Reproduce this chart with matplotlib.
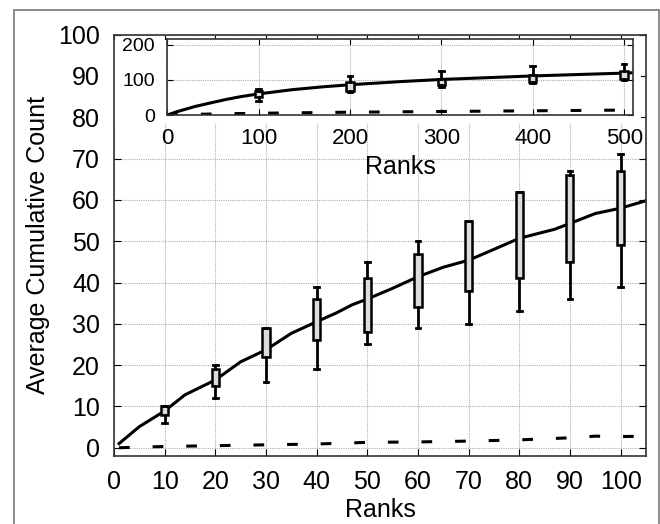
import numpy as np
import matplotlib
matplotlib.use("Agg")
import matplotlib.pyplot as plt
from matplotlib.patches import Rectangle

plt.rcParams['font.family'] = ['Liberation Sans', 'DejaVu Sans']

# main plot: average cumulative count, ranks 1..105
rank = [1, 5, 10, 14, 20, 25, 30, 35, 40, 44, 47, 50, 55, 60, 65, 70, 74, 80, 87, 90, 95, 100, 105]
avg_count = [1.0, 5.1, 8.9, 12.8, 16.4, 20.8, 23.7, 27.7, 30.5, 32.7, 34.6, 36.0, 38.6, 41.4,
             43.7, 45.4, 47.5, 50.7, 52.9, 54.3, 56.7, 58.0, 59.8]
rank_base = [1, 10, 20, 30, 40, 50, 60, 70, 80, 90, 95, 100, 105]
base_count = [0, 0.3, 0.5, 0.7, 0.9, 1.3, 1.4, 1.6, 1.9, 2.4, 2.8, 2.7, 2.8]

box_pos = [10, 20, 30, 40, 50, 60, 70, 80, 90, 100]
whis_lo = [6, 12, 16, 19, 25, 29, 30, 33, 36, 39]
box_q1 = [8, 15, 22, 26, 28, 34, 38, 41, 45, 49]
box_q3 = [10, 19, 29, 36, 41, 47, 55, 62, 66, 67]
whis_hi = [10, 20, 29, 39, 45, 50, 55, 62, 67, 71]

# inset: ranks up to 510
in_rank = [0, 10, 20, 30, 45, 64, 80, 100, 137, 170, 200, 256, 300, 350, 400, 450, 500, 510]
in_count = [0, 9, 16.5, 24, 33, 44, 52, 60, 72, 80, 86, 95, 101, 106, 111, 115, 119, 120]
in_rank_base = [0, 50, 100, 200, 300, 400, 500, 510]
in_base = [0, 3, 5, 8, 10, 12, 14, 14]

in_box_pos = [100, 200, 300, 400, 500]
in_whis_lo = [40, 64, 80, 92, 100]
in_q1 = [50, 68, 86, 95, 103]
in_q3 = [67, 93, 102, 114, 124]
in_whis_hi = [73, 110, 124, 140, 145]


def make_stats(lo, q1, q3, hi):
    return [dict(whislo=a, q1=b, med=(b + c) / 2, q3=c, whishi=d, fliers=[])
            for a, b, c, d in zip(lo, q1, q3, hi)]


def draw_boxes(ax, stats, pos, width, capw):
    ax.bxp(stats, positions=pos, widths=width, capwidths=capw, patch_artist=True,
           showfliers=False, manage_ticks=False,
           boxprops=dict(facecolor='#dddddd', edgecolor='black', linewidth=1.8),
           whiskerprops=dict(color='black', linewidth=2),
           capprops=dict(color='black', linewidth=2),
           medianprops=dict(linewidth=0), zorder=3)


grid_kw = dict(color='#b0b0b0', linestyle=(0, (1, 1)), linewidth=0.8)
dash = (0, (3.5, 7.5))

fig = plt.figure(figsize=(6.6, 5.24), dpi=100)

ax = fig.add_axes([0.1727, 0.1298, 0.806, 0.804])
ax.plot(rank, avg_count, color='black', linewidth=2.2, zorder=2)
ax.plot(rank_base, base_count, color='black', linewidth=2.2, linestyle=dash, zorder=2)
draw_boxes(ax, make_stats(whis_lo, box_q1, box_q3, whis_hi), box_pos, 1.4, 0.9)
ax.set_xlim(0, 105)
ax.set_ylim(-2, 100)
ax.set_xticks(np.arange(0, 101, 10))
ax.set_yticks(np.arange(0, 101, 10))
ax.grid(True, **grid_kw)
ax.tick_params(direction='in', length=5, top=True, right=True, labelsize=18, pad=10)
ax.set_xlabel('Ranks', fontsize=18, labelpad=3)
ax.set_ylabel('Average Cumulative Count', fontsize=18, labelpad=6)
for s in ax.spines.values():
    s.set_linewidth(1.2)
    s.set_color('#333333')

# white area behind the inset
ax.add_patch(Rectangle((0, 0.79), 0.99, 0.197, transform=ax.transAxes,
                       facecolor='white', edgecolor='none', zorder=1.8))

ins = fig.add_axes([0.2535, 0.7805, 0.706, 0.1445])
ins.plot(in_rank, in_count, color='black', linewidth=2.2, zorder=2)
ins.plot(in_rank_base, in_base, color='black', linewidth=2.2, linestyle=dash, zorder=2)
draw_boxes(ins, make_stats(in_whis_lo, in_q1, in_q3, in_whis_hi), in_box_pos, 8, 5)
ins.set_xlim(0, 510)
ins.set_ylim(0, 215)
ins.set_xticks(np.arange(0, 501, 100))
ins.set_yticks([0, 100, 200])
ins.grid(True, **grid_kw)
ins.tick_params(direction='in', length=4, top=True, right=True)
ins.tick_params(axis='x', labelsize=16, pad=9)
ins.tick_params(axis='y', labelsize=14, pad=9)
ins.set_xlabel('Ranks', fontsize=18, labelpad=5)
for s in ins.spines.values():
    s.set_linewidth(1.2)
    s.set_color('#333333')

# outer frame
fig.patches.append(Rectangle((14 / 660, -0.1), 645 / 660, 1.1 - 10 / 524,
                             transform=fig.transFigure, fill=False,
                             edgecolor='#777777', linewidth=1.2))

fig.savefig('out.png', dpi=100)
